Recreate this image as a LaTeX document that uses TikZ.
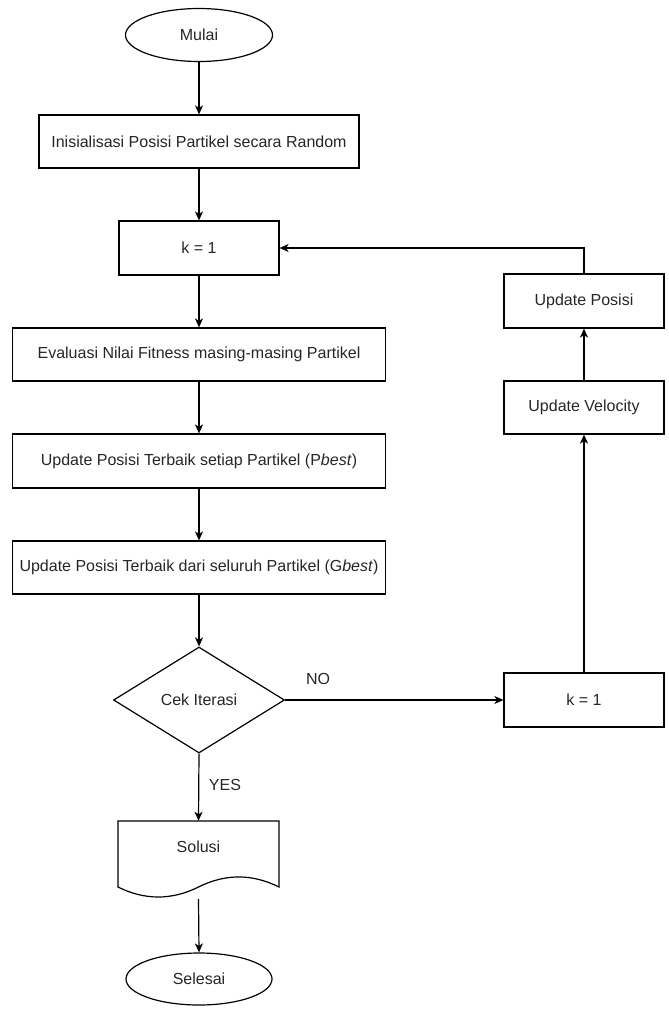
\documentclass[tikz,border=0pt]{standalone}
\usepackage{fontspec}
\setmainfont{Liberation Sans}
\usetikzlibrary{shapes.geometric,arrows.meta}
\begin{document}
\begin{tikzpicture}[x=1pt,y=-1pt,
  font=\fontsize{16pt}{19pt}\selectfont,
  every node/.style={inner sep=0pt, text=black!85},
  proc/.style={draw, line width=1.2pt, rectangle, minimum height=53pt},
  term/.style={draw, line width=1.2pt, ellipse, minimum width=147pt, minimum height=53pt},
  decis/.style={draw, line width=1.2pt, diamond, minimum width=171pt, minimum height=106pt},
  conn/.style={line width=1.2pt, -{Stealth[length=9pt,width=8pt,inset=2.5pt]}},
  lbl/.style={font=\fontsize{16pt}{19pt}\selectfont}
]
\useasboundingbox (0,0) rectangle (669,1012);

\node[term] (mulai) at (199,35) {Mulai};
\node[proc, minimum width=320pt] (init) at (199,141.5) {Inisialisasi Posisi Partikel secara Random};
\node[proc, minimum width=160pt, minimum height=54pt] (k1) at (199,248) {k = 1};
\node[proc, minimum width=373pt] (eval) at (199,354.5) {Evaluasi Nilai Fitness masing-masing Partikel};
\node[proc, minimum width=373pt, minimum height=54pt] (pbest) at (199,461) {Update Posisi Terbaik setiap Partikel (P\textit{best})};
\node[proc, minimum width=373pt] (gbest) at (199,567.5) {Update Posisi Terbaik dari seluruh Partikel (G\textit{best})};
\node[decis] (cek) at (199,700) {Cek Iterasi};

% document shape
\node[minimum width=161pt, minimum height=78pt] (sol) at (198.5,860) {};
\draw[line width=1.2pt] (118,887) -- (118,821) -- (279,821) -- (279,887)
  .. controls (252.17,873.6) and (225.33,873.6) .. (198.5,887)
  .. controls (171.67,900.33) and (144.83,900.33) .. (118,887) -- cycle;
\node (soltext) at (198.5,847) {Solusi};

\node[term, minimum width=146pt, minimum height=52pt] (selesai) at (199,979) {Selesai};

\node[proc, minimum width=160pt, minimum height=54pt] (k1r) at (584,700) {k = 1};
\node[proc, minimum width=160pt, minimum height=53pt] (uv) at (584,407.5) {Update Velocity};
\node[proc, minimum width=160pt, minimum height=54pt] (up) at (584,301) {Update Posisi};

\draw[conn] (mulai) -- (init);
\draw[conn] (init) -- (k1);
\draw[conn] (k1) -- (eval);
\draw[conn] (eval) -- (pbest);
\draw[conn] (pbest) -- (gbest);
\draw[conn] (gbest) -- (cek);
\draw[conn] (cek.south) -- (sol.north);
\draw[conn] (sol.south) -- (selesai.north);
\draw[conn] (cek.east) -- (k1r.west);
\draw[conn] (k1r) -- (uv);
\draw[conn] (uv) -- (up);
\draw[conn] (up.north) |- (k1.east);

\node[lbl] (no) at (318,679) {NO};
\node[lbl] (yes) at (225,785) {YES};
\end{tikzpicture}
\end{document}
